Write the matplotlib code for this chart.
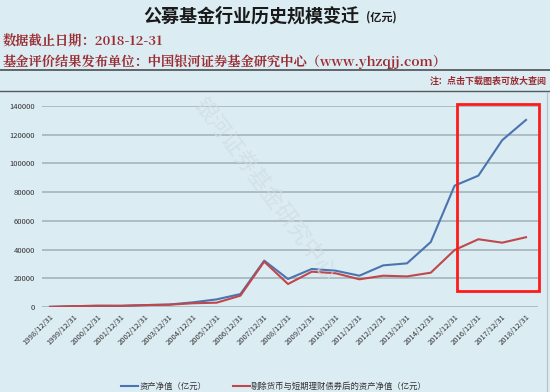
import matplotlib
matplotlib.use("Agg")
import matplotlib.pyplot as plt
from matplotlib.patches import Rectangle
from matplotlib.lines import Line2D

plt.rcParams['font.family'] = ['Noto Sans CJK SC', 'DejaVu Sans']

years = list(range(1998, 2019))
categories = [f"{y}/12/31" for y in years]
nav_total = [104, 575, 846, 818, 1330, 1715, 3246, 5300, 9000, 32300, 19500, 26500,
             25300, 21800, 29000, 30400, 45300, 84500, 91500, 116200, 130300]
nav_ex_money = [104, 575, 846, 818, 1330, 1600, 2600, 3000, 7900, 31600, 16000, 24600,
                23500, 19300, 21800, 21300, 23900, 39700, 47200, 44800, 48600]
y_ticks = [0, 20000, 40000, 60000, 80000, 100000, 120000, 140000]
highlight_years = [2015, 2018]

BG = '#dcecf3'
BLUE = '#4a74b0'
RED = '#c0474a'
TXT_RED = '#9b2d32'

W, H = 550, 392
fig = plt.figure(figsize=(5.5, 3.92), dpi=100, facecolor=BG)

def fx(px):
    return px / W

def fy(py):
    return 1 - py / H

SERIF = ['Noto Serif CJK SC', 'Noto Sans CJK SC', 'DejaVu Serif']

# Header
fig.text(fx(143), fy(16), '公募基金行业历史规模变迁', ha='left', va='center',
         fontsize=13, fontweight='bold', color='#1a1a1a')
fig.text(fx(366), fy(17), '(亿元)', ha='left', va='center',
         fontsize=8, fontweight='bold', color='#1a1a1a')
fig.text(fx(3), fy(42), '数据截止日期：2018-12-31', ha='left', va='center',
         fontsize=9.5, fontweight='bold', color=TXT_RED, family=SERIF)
fig.text(fx(3), fy(62), '基金评价结果发布单位：中国银河证券基金研究中心（www.yhzqjj.com）',
         ha='left', va='center', fontsize=9.5, fontweight='bold', color=TXT_RED, family=SERIF)
fig.text(fx(547), fy(81), '注：点击下载图表可放大查阅', ha='right', va='center',
         fontsize=6.5, fontweight='bold', color=TXT_RED)
fig.add_artist(Line2D([0, 1], [fy(70), fy(70)], color='#555a5e', lw=1.3))
fig.add_artist(Line2D([0, 1], [fy(91), fy(91)], color='#555a5e', lw=1.0))
fig.add_artist(Line2D([fx(547), fx(547)], [fy(92), fy(392)], color='#b5c3c9', lw=0.8))

# Axes
left, right, top, bottom = 42, 538, 106, 307
ax = fig.add_axes([fx(left), fy(bottom), fx(right - left), (bottom - top) / H])
ax.set_facecolor('none')
x = list(range(len(categories)))
ax.plot(x, nav_total, color=BLUE, lw=1.5, label='资产净值（亿元）', zorder=3)
ax.plot(x, nav_ex_money, color=RED, lw=1.5, label='剔除货币与短期理财债券后的资产净值（亿元）', zorder=3)
spacing = (526 - 50) / 20
ax.set_xlim(-(50 - left) / spacing, 20 + (right - 526) / spacing)
ax.set_ylim(0, 140000)
ax.set_yticks(y_ticks)
ax.set_yticklabels([str(v) for v in y_ticks], fontsize=5.5, color='#333333')
ax.set_xticks(x)
ax.set_xticklabels(categories, rotation=45, ha='right', va='top', rotation_mode='anchor',
                   fontsize=5.5, color='#333333')
ax.tick_params(axis='both', length=0, pad=5)
ax.tick_params(axis='x', pad=4)
for s in ax.spines.values():
    s.set_visible(False)
ax.grid(axis='y', color='#aab9c0', lw=1.3)
ax.set_axisbelow(True)

# Highlight box
px_per_val = 201 / 140000
i0 = years.index(highlight_years[0])
i1 = years.index(highlight_years[1])
bx0 = i0 + (457 - 455) / spacing
bx1 = i1 + (539 - 526) / spacing
by0 = (307 - 291) / px_per_val
by1 = (307 - 104) / px_per_val
rect = Rectangle((bx0, by0), bx1 - bx0, by1 - by0,
                 fill=False, edgecolor='#ff1a1a', lw=2, clip_on=False, zorder=4)
ax.add_patch(rect)

# Watermark
fig.text(fx(264), fy(190), '银河证券基金研究中心', rotation=-53, ha='center', va='center',
         fontsize=16, color='#cfdde3', alpha=0.7, zorder=0)

# Legend
leg = fig.legend(loc='center', bbox_to_anchor=(fx(274), fy(386)), ncol=2, frameon=False,
                 fontsize=6, handlelength=2.0, handletextpad=0.2, columnspacing=3.2,
                 labelcolor='#333333')

fig.savefig('out.png', dpi=100, facecolor=BG)
